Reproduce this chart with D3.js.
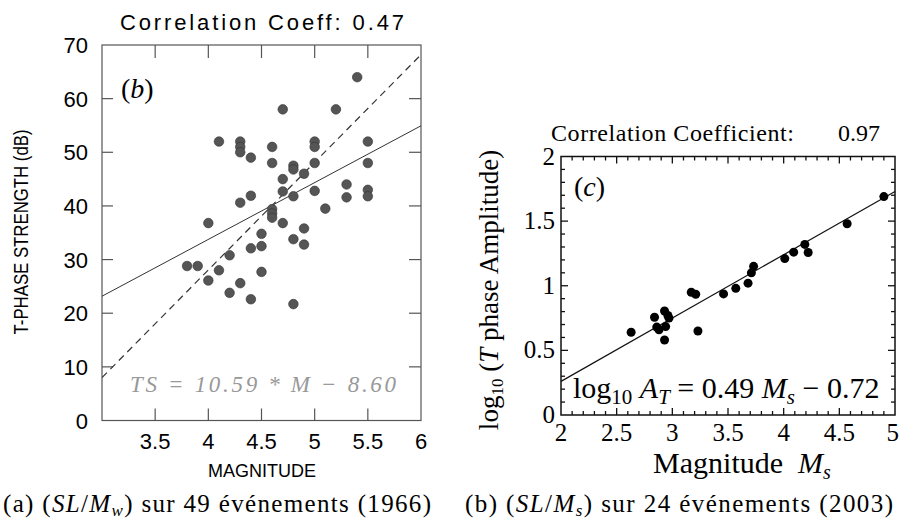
<!DOCTYPE html>
<html><head><meta charset="utf-8">
<script src="https://cdn.jsdelivr.net/npm/d3@7"></script>
<style>body{margin:0;background:#fff}svg{display:block}</style>
</head><body>
<svg id="c" width="899" height="522"></svg>
<script>
// Left panel (a): magnitude vs T-phase strength (dB)
const magA = [5.4,4.7,5.2,4.1,4.3,4.3,4.3,4.4,4.6,4.6,4.8,4.8,4.9,5.0,5.0,5.0,5.5,5.5,4.7,5.3,5.3,5.5,5.5,4.7,4.8,5.0,4.3,4.4,5.1,4.6,4.6,4.6,4.0,4.7,4.5,4.9,4.5,4.4,4.8,4.9,4.2,3.8,3.9,4.1,4.5,4.0,4.3,4.2,4.4,4.8];
const tsA  = [64,58,58,52,52,51,50,49,51,48,47.5,46.8,46,52,51,48,52,48,45,44,41.6,43,41.8,42.7,41.8,42.8,40.6,41.9,39.5,39.4,38.6,37.8,36.8,36.8,34.8,35.8,32.5,32.1,33.8,32.8,30.8,28.8,28.8,28,27.7,26.1,25.6,23.8,22.6,21.7];
const xTicksA = [3.5,4,4.5,5,5.5,6];
const yTicksA = [0,10,20,30,40,50,60,70];
const fitA = {slope:10.59, intercept:-8.60};
const dashA = {x:[3,6], y:[8,68.2]};

// Right panel (b): Ms vs log10 T-phase amplitude
const magB = [2.63,2.84,2.86,2.88,2.93,2.94,2.93,2.96,2.97,3.17,3.21,3.23,3.46,3.57,3.68,3.71,3.73,4.01,4.09,4.19,4.22,4.57,4.90];
const ampB = [0.64,0.756,0.68,0.66,0.805,0.684,0.58,0.77,0.75,0.95,0.934,0.65,0.937,0.98,1.02,1.10,1.15,1.21,1.26,1.32,1.257,1.48,1.69];
const xTicksB = [2,2.5,3,3.5,4,4.5,5];
const yTicksB = [0,0.5,1,1.5,2];
const fitB = {slope:0.49, intercept:-0.72};

const svg = d3.select("#c");
const sans = "'Liberation Sans', Arial, sans-serif";
const serif = "'Liberation Serif', 'Nimbus Roman', 'Times New Roman', Times, serif";

// ---------- Panel A ----------
const xA = d3.scaleLinear().domain([3,6]).range([102,421]);
const yA = d3.scaleLinear().domain([0,70]).range([420.5,45]);
const gA = svg.append("g");
const axCol = "#555";
gA.append("rect").attr("x",xA(3)).attr("y",yA(70)).attr("width",xA(6)-xA(3)).attr("height",yA(0)-yA(70))
  .attr("fill","none").attr("stroke",axCol).attr("stroke-width",1.2);
svg.append("clipPath").attr("id","clipA").append("rect")
  .attr("x",xA(3)).attr("y",yA(70)).attr("width",xA(6)-xA(3)).attr("height",yA(0)-yA(70));
xTicksA.filter(t=>t<6).forEach(t=>{
  gA.append("line").attr("x1",xA(t)).attr("x2",xA(t)).attr("y1",yA(70)).attr("y2",yA(70)+13).attr("stroke",axCol).attr("stroke-width",1.2);
  gA.append("line").attr("x1",xA(t)).attr("x2",xA(t)).attr("y1",yA(0)).attr("y2",yA(0)-12).attr("stroke",axCol).attr("stroke-width",1.2);
});
yTicksA.filter(t=>t>0&&t<70).forEach(t=>{
  gA.append("line").attr("x1",xA(3)).attr("x2",xA(3)+11).attr("y1",yA(t)).attr("y2",yA(t)).attr("stroke",axCol).attr("stroke-width",1.2);
  gA.append("line").attr("x1",xA(6)).attr("x2",xA(6)-12).attr("y1",yA(t)).attr("y2",yA(t)).attr("stroke",axCol).attr("stroke-width",1.2);
});
gA.selectAll(".xl").data(xTicksA).join("text").attr("x",d=>xA(d)).attr("y",449)
  .attr("text-anchor","middle").attr("font-family",sans).attr("font-size",22).text(d=>d);
gA.selectAll(".yl").data(yTicksA).join("text").attr("x",88).attr("y",d=>yA(d)+8)
  .attr("text-anchor","end").attr("font-family",sans).attr("font-size",22).text(d=>d);
gA.append("text").attr("x",262).attr("y",477).attr("text-anchor","middle").attr("font-family",sans)
  .attr("font-size",19).attr("textLength",108).attr("lengthAdjust","spacingAndGlyphs").text("MAGNITUDE");
gA.append("text").attr("transform","translate(28,232) rotate(-90)").attr("text-anchor","middle")
  .attr("font-family",sans).attr("font-size",20).attr("textLength",205).attr("lengthAdjust","spacingAndGlyphs")
  .text("T-PHASE STRENGTH (dB)");
gA.append("text").attr("x",262).attr("y",30).attr("text-anchor","middle").attr("font-family",sans)
  .attr("font-size",22).attr("textLength",284).text("Correlation Coeff: 0.47");
gA.append("text").attr("x",121).attr("y",98).attr("font-family",serif).attr("font-size",28)
  .html("(<tspan font-style='italic'>b</tspan>)");
const lineA = gA.append("g").attr("clip-path","url(#clipA)");
lineA.append("line").attr("x1",xA(3)).attr("x2",xA(6)).attr("y1",yA(fitA.slope*3+fitA.intercept)).attr("y2",yA(fitA.slope*6+fitA.intercept))
  .attr("stroke","#333").attr("stroke-width",1);
lineA.append("line").attr("x1",xA(dashA.x[0])).attr("x2",xA(dashA.x[1])).attr("y1",yA(dashA.y[0])).attr("y2",yA(dashA.y[1]))
  .attr("stroke","#333").attr("stroke-width",1.2).attr("stroke-dasharray","7,5");
gA.selectAll(".pt").data(magA).join("circle").attr("cx",d=>xA(d)).attr("cy",(d,i)=>yA(tsA[i]))
  .attr("r",4.8).attr("fill","#555").attr("stroke","#333").attr("stroke-width",0.6);
gA.append("text").attr("x",130).attr("y",392).attr("font-family",serif).attr("font-style","italic")
  .attr("font-size",23).attr("fill","#999").attr("textLength",266)
  .text("TS = 10.59 * M \u2212 8.60");

// ---------- Panel B ----------
const xB = d3.scaleLinear().domain([2,5]).range([561,895]);
const yB = d3.scaleLinear().domain([0,2]).range([415,156.5]);
const gB = svg.append("g");
gB.append("rect").attr("x",xB(2)).attr("y",yB(2)).attr("width",xB(5)-xB(2)).attr("height",yB(0)-yB(2))
  .attr("fill","none").attr("stroke","#111").attr("stroke-width",1.5);
d3.range(21,50).forEach(k=>{
  const t=k/10, major = k%5===0, L = major?7:4;
  gB.append("line").attr("x1",xB(t)).attr("x2",xB(t)).attr("y1",yB(0)).attr("y2",yB(0)-L).attr("stroke","#111").attr("stroke-width",1.3);
  gB.append("line").attr("x1",xB(t)).attr("x2",xB(t)).attr("y1",yB(2)).attr("y2",yB(2)+L).attr("stroke","#111").attr("stroke-width",1.3);
});
d3.range(1,20).forEach(k=>{
  const t=k/10, major = k%5===0, L = major?7:4;
  gB.append("line").attr("x1",xB(2)).attr("x2",xB(2)+L).attr("y1",yB(t)).attr("y2",yB(t)).attr("stroke","#111").attr("stroke-width",1.3);
  gB.append("line").attr("x1",xB(5)).attr("x2",xB(5)-L).attr("y1",yB(t)).attr("y2",yB(t)).attr("stroke","#111").attr("stroke-width",1.3);
});
gB.selectAll(".xl").data(xTicksB).join("text").attr("x",d=>d===5?899:xB(d)).attr("y",441)
  .attr("text-anchor",d=>d===5?"end":"middle").attr("font-family",serif).attr("font-size",25).text(d=>d);
gB.selectAll(".yl").data(yTicksB).join("text").attr("x",555).attr("y",d=>yB(d)+8)
  .attr("text-anchor","end").attr("font-family",serif).attr("font-size",25).text(d=>d);
gB.append("text").attr("x",551).attr("y",141).attr("font-family",serif)
  .attr("font-size",24).attr("textLength",243).text("Correlation Coefficient:");
gB.append("text").attr("x",880).attr("y",141).attr("text-anchor","end").attr("font-family",serif)
  .attr("font-size",24).text("0.97");
gB.append("text").attr("x",742).attr("y",473).attr("text-anchor","middle").attr("font-family",serif)
  .attr("font-size",30).html("Magnitude&#160;&#160;<tspan font-style='italic'>M</tspan><tspan font-style='italic' font-size='20' dy='6'>s</tspan>");
gB.append("text").attr("transform","translate(498,290) rotate(-90)").attr("text-anchor","middle")
  .attr("font-family",serif).attr("font-size",27)
  .html("log<tspan font-size='17' dy='5'>10</tspan><tspan dy='-5'> (</tspan><tspan font-style='italic'>T</tspan> phase Amplitude)");
gB.append("text").attr("x",574).attr("y",196).attr("font-family",serif).attr("font-size",28)
  .html("(<tspan font-style='italic'>c</tspan>)");
gB.append("line").attr("x1",xB(2)).attr("x2",xB(5)).attr("y1",yB(fitB.slope*2+fitB.intercept)).attr("y2",yB(fitB.slope*5+fitB.intercept))
  .attr("stroke","#111").attr("stroke-width",1.2);
gB.selectAll(".pt").data(magB).join("circle").attr("cx",d=>xB(d)).attr("cy",(d,i)=>yB(ampB[i]))
  .attr("r",4.5).attr("fill","#000");
gB.append("text").attr("x",573).attr("y",398).attr("font-family",serif).attr("font-size",30)
  .html("log<tspan font-size='21' dy='6'>10</tspan><tspan dy='-6'> </tspan><tspan font-style='italic'>A</tspan><tspan font-style='italic' font-size='21' dy='6'>T</tspan><tspan dy='-6'> = 0.49 </tspan><tspan font-style='italic'>M</tspan><tspan font-style='italic' font-size='21' dy='6'>s</tspan><tspan dy='-6'> \u2212 0.72</tspan>");

// ---------- Captions ----------
svg.append("text").attr("x",3).attr("y",512).attr("font-family",serif).attr("font-size",25).attr("textLength",428)
  .html("(a) (<tspan font-style='italic'>SL</tspan>/<tspan font-style='italic'>M</tspan><tspan font-style='italic' font-size='17' dy='4'>w</tspan><tspan dy='-4'>) sur 49 événements (1966)</tspan>");
svg.append("text").attr("x",465).attr("y",512).attr("font-family",serif).attr("font-size",25).attr("textLength",428)
  .html("(b) (<tspan font-style='italic'>SL</tspan>/<tspan font-style='italic'>M</tspan><tspan font-style='italic' font-size='17' dy='4'>s</tspan><tspan dy='-4'>) sur 24 événements (2003)</tspan>");
</script>
</body></html>
